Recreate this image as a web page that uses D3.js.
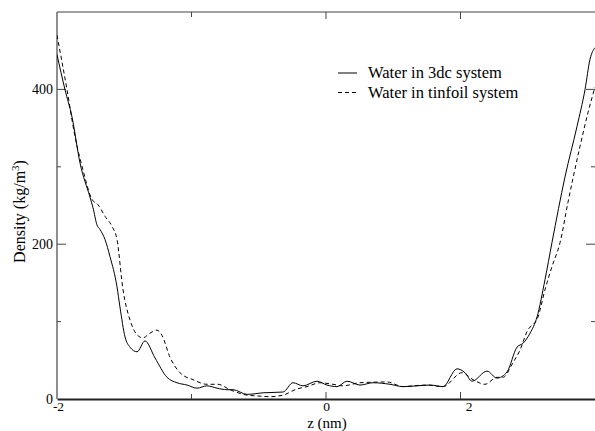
<!DOCTYPE html>
<html><head><meta charset="utf-8">
<script src="https://cdn.jsdelivr.net/npm/d3@7"></script>
<style>body{margin:0;background:#fff}svg{display:block}text{font-family:"Liberation Serif","Times New Roman",serif;fill:#000}</style>
</head><body>
<script>
// Water in 3dc system (solid)
const z3dc = [-2.000,-1.941,-1.888,-1.829,-1.755,-1.732,-1.703,-1.680,-1.643,-1.606,-1.554,-1.532,-1.494,-1.457,-1.405,-1.346,-1.271,-1.182,-1.108,-1.033,-0.959,-0.885,-0.810,-0.736,-0.691,-0.587,-0.468,-0.320,-0.245,-0.171,-0.067,0.007,0.082,0.156,0.253,0.349,0.476,0.572,0.677,0.773,0.870,0.974,1.033,1.086,1.197,1.271,1.346,1.420,1.465,1.517,1.569,1.628,1.680,1.777,1.866,1.926,1.963,2.000];
const d3dc = [445,400,364,305,261,247,225,219,206,184,145,119,80,67,61,75,53,28,21,18,14,17,14,12,12,6,8,9,21,17,23,18,16,23,18,21,19,16,17,18,16,39,34,23,36,27,35,67,72,85,106,154,202,287,352,400,439,454];
// Water in tinfoil system (dashed)
const zTin = [-2.000,-1.926,-1.866,-1.807,-1.740,-1.695,-1.643,-1.591,-1.554,-1.509,-1.457,-1.405,-1.361,-1.309,-1.257,-1.219,-1.160,-1.086,-0.989,-0.885,-0.803,-0.714,-0.587,-0.513,-0.416,-0.320,-0.216,-0.141,-0.045,0.052,0.126,0.253,0.454,0.572,0.647,0.751,0.870,1.011,1.093,1.182,1.271,1.316,1.390,1.442,1.494,1.576,1.628,1.680,1.740,1.799,1.888,1.948,2.000];
const dTin = [470,400,339,296,258,251,236,223,206,141,102,83,79,85,89,82,54,34,25,19,19,12,5,4,3,5,13,16,21,19,17,21,22,16,17,18,16,34,25,19,28,28,47,63,87,106,141,171,202,254,326,370,403];

const xTickValues = [-2, -1, 0, 1];
const xTickLabels = ["-2", "", "0", "2"];
const yTickValues = [0, 100, 200, 300, 400];
const yTickLabels = ["0", "", "200", "", "400"];
const seriesNames = ["Water in 3dc system", "Water in tinfoil system"];

const W = 595, H = 431;
const m = {left: 57, right: 0, top: 12, bottom: 32};
const svg = d3.select("body").append("svg").attr("width", W).attr("height", H);

const x = d3.scaleLinear().domain([-2, 2]).range([m.left, W - m.right]);
const y = d3.scaleLinear().domain([0, 500]).range([H - m.bottom, m.top]);

const axisCol = "#444";
// frame
svg.append("line").attr("x1", x(-2)).attr("x2", W).attr("y1", y(500)).attr("y2", y(500)).attr("stroke", axisCol).attr("stroke-width", 1.2);
svg.append("line").attr("x1", x(-2)).attr("x2", x(-2)).attr("y1", y(0)).attr("y2", y(500)).attr("stroke", axisCol).attr("stroke-width", 1.2);

// bottom axis
const xb = svg.append("g").attr("transform", `translate(0,${y(0)})`)
  .call(d3.axisBottom(x).tickValues(xTickValues).tickSizeInner(0).tickSizeOuter(0).tickFormat((d,i) => xTickLabels[i]));
xb.select(".domain").attr("stroke", "#222").attr("stroke-width", 1.8);
xb.selectAll(".tick line").remove();
xb.selectAll(".tick text").attr("font-size", 13.5).attr("dy", 0).attr("y", 11.8)
  .attr("dx", (d) => d === 1 ? 8 : (d === -2 ? 1 : 0));
xTickValues.forEach((v, i) => {
  const len = xTickLabels[i] ? 7 : 5;
  if (v === -2) return;
  svg.append("line").attr("x1", x(v)).attr("x2", x(v)).attr("y1", y(0)).attr("y2", y(0) - len).attr("stroke", axisCol);
  svg.append("line").attr("x1", x(v)).attr("x2", x(v)).attr("y1", y(500)).attr("y2", y(500) + len).attr("stroke", axisCol);
});

// left axis
const yl = svg.append("g").attr("transform", `translate(${x(-2)},0)`)
  .call(d3.axisLeft(y).tickValues(yTickValues).tickSizeInner(0).tickSizeOuter(0).tickPadding(4).tickFormat((d,i) => yTickLabels[i]));
yl.select(".domain").remove();
yl.selectAll(".tick line").remove();
yl.selectAll(".tick text").attr("font-size", 14);
yTickValues.forEach((v, i) => {
  const len = yTickLabels[i] ? 9 : 4;
  if (v === 0) return;
  svg.append("line").attr("x1", x(-2)).attr("x2", x(-2) + len).attr("y1", y(v)).attr("y2", y(v)).attr("stroke", axisCol);
  svg.append("line").attr("x1", W).attr("x2", W - len).attr("y1", y(v)).attr("y2", y(v)).attr("stroke", axisCol);
});

// axis titles
svg.append("text").attr("x", x(0) + 1).attr("y", 427.5).attr("text-anchor", "middle").attr("font-size", 15).text("z (nm)");
const yt = svg.append("text").attr("transform", `translate(25,${(y(0)+y(500))/2 + 6}) rotate(-90)`).attr("text-anchor", "middle").attr("font-size", 16);
yt.append("tspan").text("Density (kg/m");
yt.append("tspan").attr("font-size", 11).attr("dy", -6).text("3");
yt.append("tspan").attr("dy", 6).text(")");

// lines
const line = d3.line().curve(d3.curveMonotoneX).x(d => x(d[0])).y(d => y(d[1]));
svg.append("clipPath").attr("id", "c").append("rect").attr("x", m.left).attr("y", m.top).attr("width", W - m.left).attr("height", y(0) - m.top);
const s1 = z3dc.map((z, i) => [z, d3dc[i]]);
const s2 = zTin.map((z, i) => [z, dTin[i]]);
svg.append("path").datum(s1).attr("d", line).attr("fill", "none").attr("stroke", "#000").attr("stroke-width", 1).attr("clip-path", "url(#c)");
svg.append("path").datum(s2).attr("d", line).attr("fill", "none").attr("stroke", "#000").attr("stroke-width", 1).attr("stroke-dasharray", "4,3").attr("clip-path", "url(#c)");

// legend
const lg = svg.append("g");
seriesNames.forEach((name, i) => {
  const yy = 73 + i * 19.5;
  lg.append("line").attr("x1", 338).attr("x2", 357).attr("y1", yy).attr("y2", yy).attr("stroke", "#000")
    .attr("stroke-dasharray", i === 1 ? "4,3" : null);
  lg.append("text").attr("x", 368).attr("y", yy + 5).attr("font-size", 16.5).text(name);
});
</script>
</body></html>
